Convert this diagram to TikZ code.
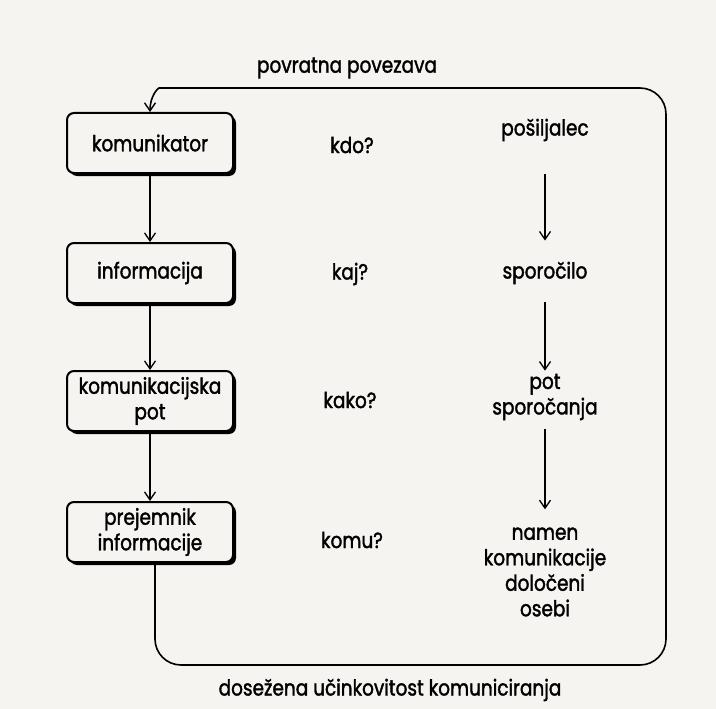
\documentclass[tikz,border=0pt]{standalone}
\usepackage{fontspec}
\setmainfont{Poppins}[FakeStretch=0.84, FakeBold=1.6]
\usetikzlibrary{arrows.meta,shadows}
\definecolor{paper}{RGB}{246,244,241}
\tikzset{
	box/.style={draw, line width=2pt, rounded corners=7pt, fill=paper, minimum width=166pt, minimum height=60pt, align=center, inner sep=2pt, drop shadow={shadow xshift=3pt, shadow yshift=-3pt, fill=black, opacity=1}},
	lbl/.style={align=center, inner sep=1pt},
	flow/.style={line width=1.3pt, -{Straight Barb[length=8pt,width=11pt,line width=1.3pt]}},
	back/.style={line width=1.6pt, rounded corners=26pt, -{Straight Barb[length=8pt,width=11pt,line width=1.4pt]}}
}

\begin{document}
\begin{tikzpicture}[x=1pt, y=-1pt, font=\fontsize{22}{25.5}\selectfont]
			%%%%% START %%%%%
			
			\fill[paper] (0, 0) rectangle (716, 709);
			\useasboundingbox (0, 0) rectangle (716, 709);
			
			\node[box] (kom) at (150, 143) {komunikator};
			\node[box] (inf) at (150, 273) {informacija};
			\node[box] (pot) at (150, 401) {komunikacijska\\pot};
			\node[box] (prej) at (150, 532) {prejemnik\\informacije};
			
			\node[lbl] (kdo) at (352, 145) {kdo?};
			\node[lbl] (kaj) at (350, 274) {kaj?};
			\node[lbl] (kako) at (350, 400) {kako?};
			\node[lbl] (komu) at (352, 540) {komu?};
			
			\node[lbl] (posil) at (545, 130) {pošiljalec};
			\node[lbl] (spor) at (545, 273) {sporočilo};
			\node[lbl] (potspor) at (545, 397) {pot\\sporočanja};
			\node[lbl] (namen) at (545, 572) {namen\\komunikacije\\določeni\\osebi};
			
			\node[lbl] (povr) at (347, 68) {povratna povezava};
			\node[lbl] (dos) at (390, 690) {dosežena učinkovitost komuniciranja};
			
			\draw[flow] (kom) -- (inf);
			\draw[flow] (inf) -- (pot);
			\draw[flow] (pot) -- (prej);
			
			\draw[flow, shorten <=32pt, shorten >=20pt] (posil) -- (spor);
			\draw[flow, shorten <=17pt, shorten >=2pt] (spor) -- (potspor);
			\draw[flow, shorten <=8pt, shorten >=17pt] (potspor) -- (namen);
			
			\draw[back] ([xshift=5pt]prej.south) -- (155, 665) -- (666, 665) -- (666, 88) -- (185, 88) .. controls (158, 88) and (150, 96) .. (kom.north);
			
			%%%%% END %%%%%
\end{tikzpicture}
\end{document}
